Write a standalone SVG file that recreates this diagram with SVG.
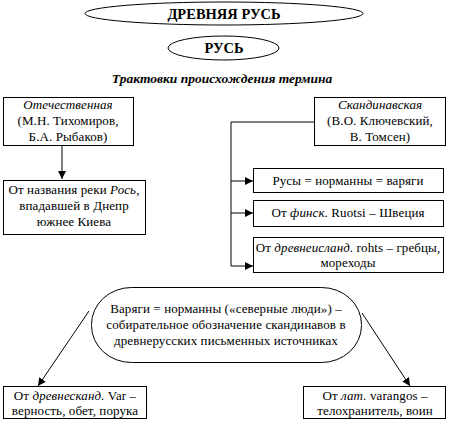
<svg xmlns="http://www.w3.org/2000/svg" width="449" height="424" viewBox="0 0 449 424">
<style>
.b{fill:#fff;stroke:#000;stroke-width:1}
.t{font-family:"Liberation Serif","Times New Roman","DejaVu Serif",serif;font-size:13px;letter-spacing:0.1px;fill:#000;text-anchor:middle}
.h{font-family:"Liberation Serif","Times New Roman","DejaVu Serif",serif;font-size:14.5px;font-weight:bold;fill:#000;text-anchor:middle}
.l{fill:none;stroke:#000;stroke-width:1}
</style>
<defs>
<marker id="a" viewBox="0 0 10 10" refX="10" refY="5" markerWidth="8" markerHeight="8" markerUnits="userSpaceOnUse" orient="auto"><path d="M0,0L10,5L0,10z" fill="#000"/></marker>
</defs>
<rect width="449" height="424" fill="#fff"/>
<g id="title">
<ellipse class="b" cx="224" cy="13.5" rx="139" ry="11.5"/>
<text class="h" x="224" y="19">ДРЕВНЯЯ РУСЬ</text>
</g>
<g id="rus">
<ellipse class="b" cx="223.5" cy="48" rx="55.5" ry="12"/>
<text class="h" x="224" y="53">РУСЬ</text>
</g>
<g id="subtitle">
<text class="t" x="222" y="83" style="font-size:13.5px;font-weight:bold;font-style:italic;letter-spacing:0">Трактовки происхождения термина</text>
</g>
<g id="connectors">
<line class="l" x1="62" y1="146" x2="62" y2="179" marker-end="url(#a)"/>
<polyline class="l" points="314,122 231,122 231,266"/>
<line class="l" x1="231" y1="181" x2="253" y2="181" marker-end="url(#a)"/>
<line class="l" x1="231" y1="213" x2="253" y2="213" marker-end="url(#a)"/>
<line class="l" x1="231" y1="266" x2="253" y2="266" marker-end="url(#a)"/>
<line class="l" x1="89" y1="311" x2="38" y2="386" marker-end="url(#a)"/>
<line class="l" x1="362" y1="313" x2="410" y2="386" marker-end="url(#a)"/>
</g>
<g id="otech">
<rect class="b" x="3.5" y="97.5" width="130" height="48"/>
<text class="t" x="68" y="109" font-style="italic">Отечественная</text>
<text class="t" x="68" y="125">(М.Н. Тихомиров,</text>
<text class="t" x="68" y="141">Б.А. Рыбаков)</text>
</g>
<g id="ros">
<rect class="b" x="3.5" y="180.5" width="142" height="54"/>
<text class="t" x="74" y="194">От названия реки <tspan font-style="italic">Рось</tspan>,</text>
<text class="t" x="74" y="210">впадавшей в Днепр</text>
<text class="t" x="74" y="226">южнее Киева</text>
</g>
<g id="skand">
<rect class="b" x="314.5" y="97.5" width="131" height="48"/>
<text class="t" x="380" y="109" font-style="italic">Скандинавская</text>
<text class="t" x="380" y="125">(В.О. Ключевский,</text>
<text class="t" x="380" y="141">В. Томсен)</text>
</g>
<g id="rusy">
<rect class="b" x="253.5" y="168.5" width="190" height="24"/>
<text class="t" x="348" y="185">Русы = норманны = варяги</text>
</g>
<g id="finsk">
<rect class="b" x="253.5" y="200.5" width="190" height="26"/>
<text class="t" x="348" y="217">От  <tspan font-style="italic">финск</tspan>. Ruotsi – Швеция</text>
</g>
<g id="rohts">
<rect class="b" x="253.5" y="237.5" width="190" height="35"/>
<text class="t" x="348" y="252">От <tspan font-style="italic">древнеисланд.</tspan> rohts – гребцы,</text>
<text class="t" x="348" y="267">мореходы</text>
</g>
<g id="varyagi">
<rect class="b" x="91.5" y="287.5" width="270" height="75" rx="40" ry="37"/>
<text class="t" x="226" y="313">Варяги = норманны («северные люди») –</text>
<text class="t" x="226" y="329">собирательное обозначение скандинавов в</text>
<text class="t" x="226" y="345">древнерусских письменных источниках</text>
</g>
<g id="var">
<rect class="b" x="3.5" y="386.5" width="143" height="32"/>
<text class="t" x="75" y="400">От <tspan font-style="italic">древнесканд.</tspan> Var –</text>
<text class="t" x="75" y="415">верность, обет, порука</text>
</g>
<g id="varangos">
<rect class="b" x="303.5" y="386.5" width="142" height="32"/>
<text class="t" x="375" y="400">От <tspan font-style="italic">лат.</tspan> varangos –</text>
<text class="t" x="375" y="415">телохранитель, воин</text>
</g>
</svg>
